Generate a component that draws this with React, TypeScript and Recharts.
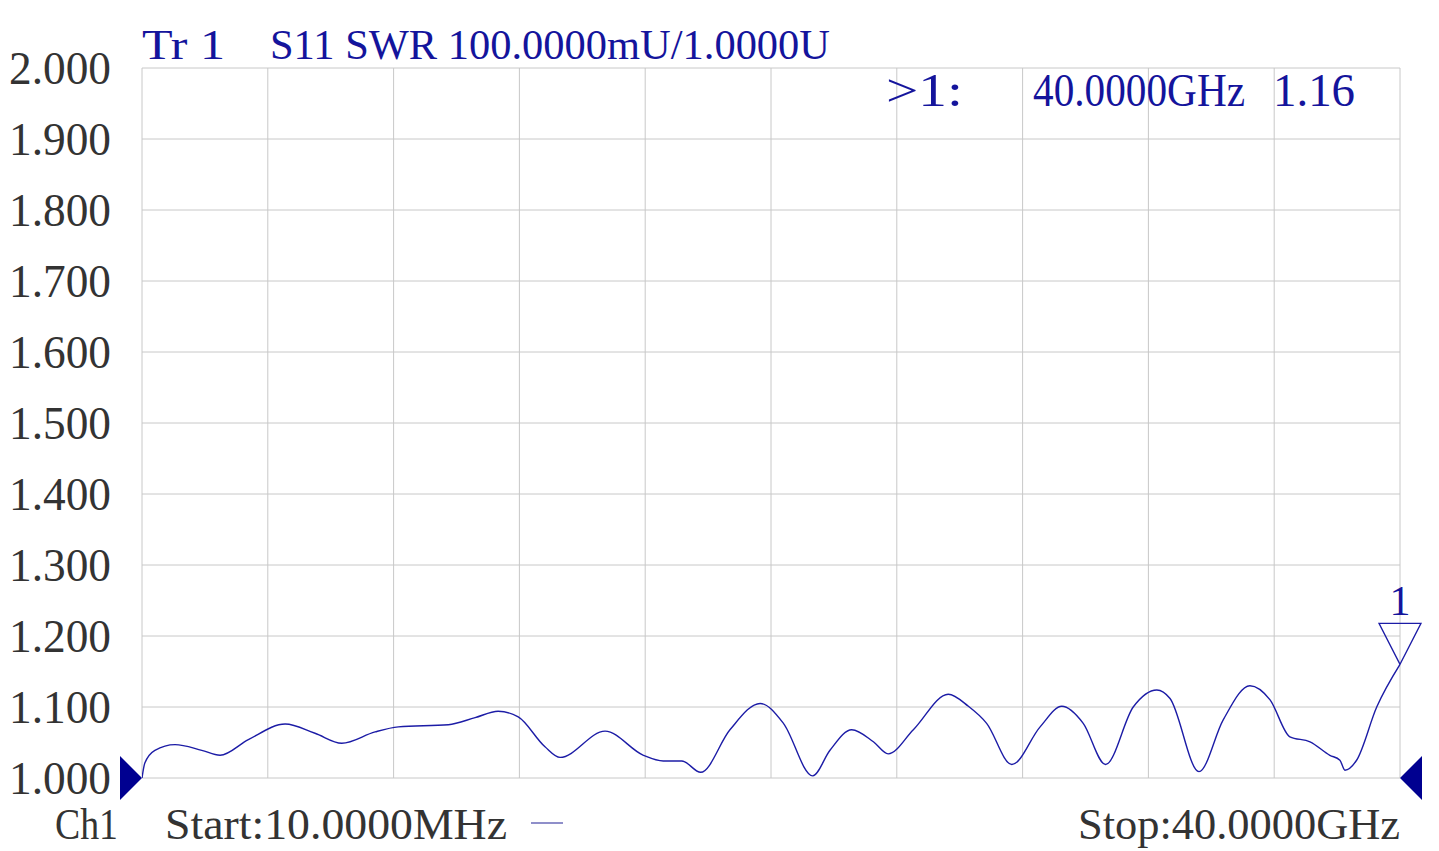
import React from 'react';
import { LineChart, Line, XAxis, YAxis, CartesianGrid, ReferenceDot } from 'recharts';

const freqGHz = [0.01, 0.1, 0.42, 1.06, 1.91, 2.49, 3.39, 4.56, 5.51, 6.36, 7.42, 8.16, 9.75, 10.6, 11.33, 11.97, 12.82, 13.3, 14.73, 15.95, 16.58, 17.17, 17.77, 18.7, 19.66, 20.4, 21.33, 21.88, 22.57, 23.26, 23.73, 24.53, 25.64, 26.28, 26.86, 27.66, 28.56, 29.25, 29.93, 30.64, 31.52, 32.27, 32.69, 33.61, 34.38, 35.23, 35.87, 36.5, 37.14, 37.77, 38.09, 38.25, 38.62, 39.26, 40.0];
const swrValues = [1.0, 1.021, 1.039, 1.047, 1.039, 1.032, 1.054, 1.076, 1.063, 1.049, 1.065, 1.072, 1.075, 1.085, 1.094, 1.086, 1.044, 1.029, 1.066, 1.032, 1.024, 1.024, 1.008, 1.068, 1.105, 1.077, 1.003, 1.039, 1.068, 1.051, 1.034, 1.068, 1.118, 1.101, 1.077, 1.019, 1.072, 1.101, 1.077, 1.019, 1.1, 1.124, 1.112, 1.009, 1.082, 1.13, 1.11, 1.058, 1.051, 1.032, 1.025, 1.011, 1.025, 1.1, 1.16];

const xTicks = [0.01, 4.009, 8.008, 12.007, 16.006, 20.005, 24.004, 28.003, 32.002, 36.001, 40.0];
const yTicks = [1.0, 1.1, 1.2, 1.3, 1.4, 1.5, 1.6, 1.7, 1.8, 1.9, 2.0];
const yTickLabels = ['1.000', '1.100', '1.200', '1.300', '1.400', '1.500', '1.600', '1.700', '1.800', '1.900', '2.000'];

const titleText = ['Tr 1', 'S11 SWR 100.0000mU/1.0000U'];
const markerText = ['>1:', '40.0000GHz', '1.16'];
const footerText = ['Ch1', 'Start:10.0000MHz', 'Stop:40.0000GHz'];
const markerFreq = 40.0;
const markerSwr = 1.16;

const data = freqGHz.map((f, i) => ({ f, swr: swrValues[i] }));

const NAVY = '#14149c';
const TRACE = '#1c1ca6';
const GRAY_TEXT = '#333333';
const FONT = '"Liberation Serif", "DejaVu Serif", serif';

const YTick = (props: any) => {
  const { y, payload } = props;
  const idx = yTicks.findIndex((v) => Math.abs(v - payload.value) < 1e-6);
  const label = idx >= 0 ? yTickLabels[idx] : String(payload.value);
  return (
    <text
      x={9}
      y={y + 16}
      textLength={102}
      lengthAdjust="spacingAndGlyphs"
      fontFamily={FONT}
      fontSize={47}
      fill={GRAY_TEXT}
    >
      {label}
    </text>
  );
};

const MarkerShape = (props: any) => {
  const { cx, cy } = props;
  return (
    <g>
      <polygon
        points={`${cx},${cy} ${cx - 21},${cy - 41} ${cx + 21},${cy - 41}`}
        fill="none"
        stroke={TRACE}
        strokeWidth={1.3}
      />
      <text x={cx} y={cy - 49} textAnchor="middle" fontFamily={FONT} fontSize={42} fill={NAVY}>
        1
      </text>
    </g>
  );
};

const LeftRef = (props: any) => {
  const { cx, cy } = props;
  return <polygon points={`${cx - 22},${cy - 22} ${cx},${cy} ${cx - 22},${cy + 22}`} fill="#000090" />;
};

const RightRef = (props: any) => {
  const { cx, cy } = props;
  return <polygon points={`${cx + 22},${cy - 22} ${cx},${cy} ${cx + 22},${cy + 22}`} fill="#000090" />;
};

export default function App() {
  return (
    <div style={{ position: 'absolute', left: 0, top: 0, width: 1439, height: 851, background: '#fff' }}>
      <LineChart width={1439} height={851} data={data} margin={{ top: 68, right: 39, bottom: 73, left: 0 }}>
        <CartesianGrid stroke="#c8c8c8" strokeWidth={1} horizontal vertical />
        <XAxis dataKey="f" type="number" domain={[0.01, 40]} ticks={xTicks} hide height={0} allowDataOverflow />
        <YAxis
          type="number"
          domain={[1.0, 2.0]}
          ticks={yTicks}
          width={142}
          axisLine={false}
          tickLine={false}
          tick={<YTick />}
          interval={0}
          allowDataOverflow
        />
        <Line
          type="monotone"
          dataKey="swr"
          stroke={TRACE}
          strokeWidth={1.4}
          dot={false}
          isAnimationActive={false}
        />
        <ReferenceDot x={freqGHz[0]} y={1.0} ifOverflow="visible" shape={<LeftRef />} />
        <ReferenceDot x={freqGHz[freqGHz.length - 1]} y={1.0} ifOverflow="visible" shape={<RightRef />} />
        <ReferenceDot x={markerFreq} y={markerSwr} ifOverflow="visible" shape={<MarkerShape />} />
      </LineChart>
      <svg
        width={1439}
        height={851}
        style={{ position: 'absolute', left: 0, top: 0, pointerEvents: 'none' }}
      >
        <g fontFamily={FONT}>
          <text x={142} y={59} fontSize={43} textLength={83} lengthAdjust="spacingAndGlyphs" fill={NAVY} style={{ whiteSpace: 'pre' }}>
            {titleText[0]}
          </text>
          <text x={270} y={59} fontSize={43} textLength={560} lengthAdjust="spacingAndGlyphs" fill={NAVY} style={{ whiteSpace: 'pre' }}>
            {titleText[1]}
          </text>
          <text x={886} y={106} fontSize={46} textLength={77} lengthAdjust="spacingAndGlyphs" fill={NAVY}>
            {markerText[0]}
          </text>
          <text x={1033} y={106} fontSize={46} textLength={212} lengthAdjust="spacingAndGlyphs" fill={NAVY}>
            {markerText[1]}
          </text>
          <text x={1273} y={106} fontSize={46} textLength={82} lengthAdjust="spacingAndGlyphs" fill={NAVY}>
            {markerText[2]}
          </text>
          <text x={55} y={839} fontSize={44} textLength={63} lengthAdjust="spacingAndGlyphs" fill={GRAY_TEXT}>
            {footerText[0]}
          </text>
          <text x={165} y={839} fontSize={44} textLength={342} lengthAdjust="spacingAndGlyphs" fill={GRAY_TEXT}>
            {footerText[1]}
          </text>
          <text x={1078} y={839} fontSize={44} textLength={322} lengthAdjust="spacingAndGlyphs" fill={GRAY_TEXT}>
            {footerText[2]}
          </text>
        </g>
        <line x1={531} y1={823} x2={563} y2={823} stroke="#6a6ab8" strokeWidth={1.5} />
      </svg>
    </div>
  );
}
